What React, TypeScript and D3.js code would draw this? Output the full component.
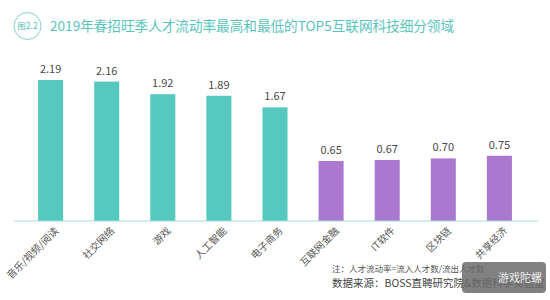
import React from "react";
import * as d3 from "d3";

const categories = ["音乐/视频/阅读", "社交网络", "游戏", "人工智能", "电子商务", "互联网金融", "IT软件", "区块链", "共享经济"];
const values = [2.19, 2.16, 1.92, 1.89, 1.67, 0.65, 0.67, 0.70, 0.75];
const groups = ["high", "high", "high", "high", "high", "low", "low", "low", "low"];
const title = "2019年春招旺季人才流动率最高和最低的TOP5互联网科技细分领域";
const badge = "图2.2";
const note = "注：人才流动率=流入人才数/流出人才数";
const source = "数据来源：BOSS直聘研究院&数据科学实验室";

const W = 550;
const H = 300;
const FONT = "'Noto Sans CJK SC', 'Noto Sans', sans-serif";

export default function App() {
  const x = d3.scaleBand<string>().domain(categories).range([7, 543]).paddingInner(0.554).paddingOuter(0.554);
  const y = d3.scaleLinear().domain([-0.49, 2.19]).range([221, 80]);
  const color = d3.scaleOrdinal<string, string>().domain(["high", "low"]).range(["#55c8c0", "#ab78d0"]);
  const baseY = y(-0.49);
  return (
    <div style={{ position: "absolute", left: 0, top: 0 }}>
      <svg width={W} height={H} style={{ display: "block", background: "#fff" }} fontFamily={FONT}>
        <circle cx={27.5} cy={26} r={13.5} fill="none" stroke="#7fd3cc" strokeWidth={1} />
        <text x={27.5} y={29} textAnchor="middle" fontSize={8.5} fill="#55c0b8">{badge}</text>
        <text x={50} y={31} fontSize={13.6} fill="#5ac4bc">{title}</text>
        {categories.map((c, i) => (
          <g key={c}>
            <rect x={x(c)} y={y(values[i])} width={x.bandwidth()} height={baseY - y(values[i])} fill={color(groups[i])} />
            <text x={(x(c) as number) + x.bandwidth() / 2} y={y(values[i]) - 7} textAnchor="middle" fontSize={11} fill="#4a4a4a">
              {values[i].toFixed(2)}
            </text>
            <text
              transform={`translate(${(x(c) as number) + x.bandwidth() / 2 + 6},${baseY + 8}) rotate(-45)`}
              textAnchor="end"
              fontSize={10}
              fill="#555"
              dy="0.35em"
            >
              {c}
            </text>
          </g>
        ))}
        <line x1={14} x2={538} y1={baseY} y2={baseY} stroke="#a6dcd7" strokeWidth={1} />
        <text x={332} y={272} fontSize={8.5} fill="#555">{note}</text>
        <text x={332} y={287} fontSize={10.5} fill="#444">{source}</text>
        <rect x={462} y={262} width={84} height={31} rx={4} fill="#6b6b6b" opacity={0.85} />
        <text x={520} y={282} textAnchor="middle" fontSize={11} fill="#eee">游戏陀螺</text>
      </svg>
    </div>
  );
}
